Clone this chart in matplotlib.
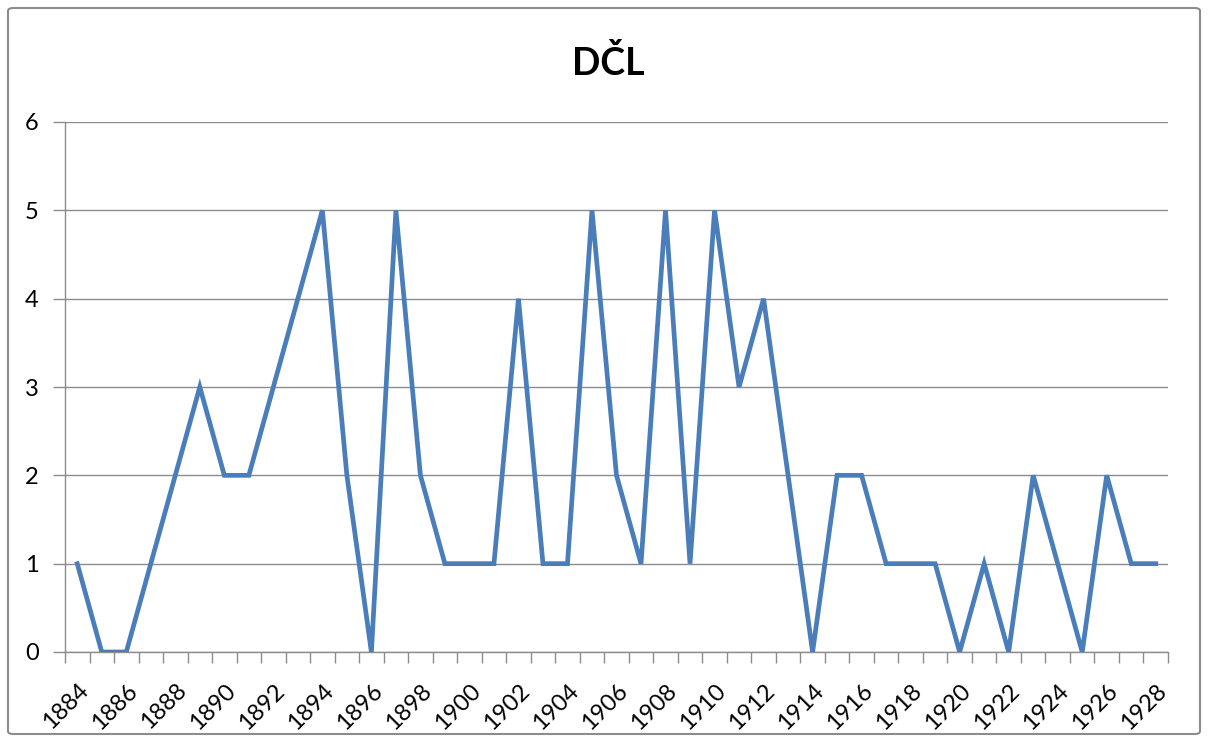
import matplotlib
matplotlib.use("Agg")
import matplotlib.pyplot as plt
from matplotlib.patches import FancyBboxPatch

years = list(range(1884, 1929))
counts = [1, 0, 0, 1, 2, 3, 2, 2, 3, 4,
          5, 2, 0, 5, 2, 1, 1, 1, 4, 1,
          1, 5, 2, 1, 5, 1, 5, 3, 4, 2,
          0, 2, 2, 1, 1, 1, 0, 1, 0, 2,
          1, 0, 2, 1, 1]
label_years = years[::2]

plt.rcParams['font.family'] = ['Lato', 'DejaVu Sans']

fig = plt.figure(figsize=(12.09, 7.42), dpi=100)
# outer chart border like the Excel chart area
fig.patches.append(FancyBboxPatch((8/1209, 8/742), 1192/1209, 726/742,
                                  boxstyle="round,pad=0,rounding_size=0.004",
                                  transform=fig.transFigure, fill=False,
                                  edgecolor='#8c8c8c', linewidth=1.5))

ax = fig.add_axes([65/1209, 1 - 652/742, (1168 - 65)/1209, (652 - 122)/742])

ax.plot(years, counts, color='#4A7EBB', linewidth=3.4, solid_joinstyle='miter', zorder=3)

ax.set_xlim(years[0] - 0.5, years[-1] + 0.5)
ax.set_ylim(0, 6)
ax.set_yticks(range(0, 7))
ax.yaxis.grid(True, color='#8c8c8c', linewidth=1)
ax.set_axisbelow(True)

ax.set_xticks(label_years)
ax.set_xticklabels([str(y) for y in label_years], rotation=45, ha='right',
                   rotation_mode='anchor', fontsize=17)
ax.set_xticks([y - 0.5 for y in years] + [years[-1] + 0.5], minor=True)
ax.tick_params(axis='x', which='major', length=0, pad=20)
ax.tick_params(axis='x', which='minor', length=8, color='#8c8c8c', width=1)
ax.tick_params(axis='y', length=9, color='#8c8c8c', width=1, labelsize=17, pad=10)

for s in ['top', 'right']:
    ax.spines[s].set_visible(False)
for s in ['left', 'bottom']:
    ax.spines[s].set_color('#8c8c8c')
    ax.spines[s].set_linewidth(1)

fig.text(608/1209, 1 - 63/742, 'DČL', ha='center', va='center',
         fontsize=27, fontweight='bold')

fig.savefig('out.png', dpi=100)
